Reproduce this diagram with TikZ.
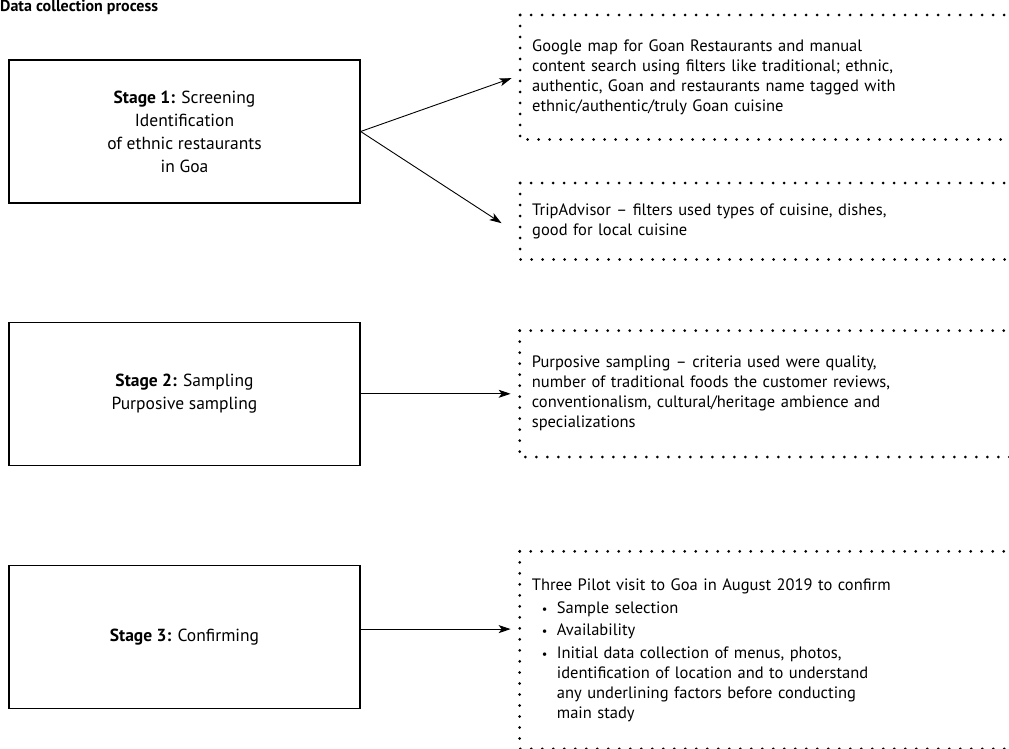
\documentclass[tikz,border=0pt]{standalone}
\usepackage{fontspec}
\setmainfont{PT Sans}
\usepackage{tikz}
\usetikzlibrary{arrows.meta, positioning}

\newcommand{\bul}{\makebox[25pt][l]{\hspace{10pt}\scalebox{0.75}{\textbullet}}}

\begin{document}
\begin{tikzpicture}[
  x=1pt, y=-1pt,
  stagebox/.style={draw, line width=1.3pt, minimum width=351pt, minimum height=143pt, align=center, font=\fontsize{17.5}{23}\selectfont},
  infobox/.style={anchor=north west, inner xsep=12pt, inner ysep=0pt, text width=466pt, align=left, font=\fontsize{16.5}{20}\selectfont},
  dotline/.style={line width=3pt, line cap=round, dash pattern=on 0pt off 11pt},
  arr/.style={-{Stealth[length=12pt, width=8pt, inset=3pt]}, line width=0.9pt, shorten >=9pt},
  node distance=118pt and 159pt
]
\useasboundingbox (0,0) rectangle (1009,749);

\node[anchor=base west, inner sep=0pt, font=\fontsize{16}{18}\selectfont\bfseries] (title) at (0,12) {Data collection process};

\node[stagebox] (s1) at (184.5,131.5) {\textbf{Stage 1:} Screening\\ Identification\\ of ethnic restaurants\\ in Goa};
\node[stagebox, below=of s1] (s2) {\textbf{Stage 2:} Sampling\\ Purposive sampling};
\node[stagebox, below=99pt of s2] (s3) {\textbf{Stage 3:} Confirming};

\node[infobox, minimum height=124pt] (g1) at (520,15) {Google map for Goan Restaurants and manual\\ content search using filters like traditional; ethnic,\\ authentic, Goan and restaurants name tagged with\\ ethnic/authentic/truly Goan cuisine};
\node[infobox, minimum height=76pt] (g2) at (520,183) {TripAdvisor -- filters used types of cuisine, dishes,\\ good for local cuisine};
\node[infobox, minimum height=126pt, right=of s2] (g3) {Purposive sampling -- criteria used were quality,\\ number of traditional foods the customer reviews,\\ conventionalism, cultural/heritage ambience and\\ specializations};
\node[infobox, minimum height=197pt, right=of s3, yshift=-13pt] (g4) {Three Pilot visit to Goa in August 2019 to confirm\\[3pt]
\bul Sample selection\\[2pt]
\bul Availability\\[3pt]
\bul Initial data collection of menus, photos,\\
\hspace*{25pt}identification of location and to understand\\
\hspace*{25pt}any underlining factors before conducting\\
\hspace*{25pt}main stady};

\foreach \g in {g1, g2, g3, g4} {
  \draw[dotline] (\g.north west) -- (\g.north east);
  \draw[dotline] (\g.north west) -- (\g.south west) -- (\g.south east);
}

\coordinate (a3) at ([yshift=8pt]s3.east);
\draw[arr] (s1.east) -- ([shift={(0,-2)}]g1.west);
\draw[arr, shorten >=22pt] (s1.east) -- ([shift={(0,14)}]g2.west);
\draw[arr] (s2.east) -- (s2.east -| g3.west);
\draw[arr] (a3) -- (a3 -| g4.west);
\end{tikzpicture}
\end{document}
